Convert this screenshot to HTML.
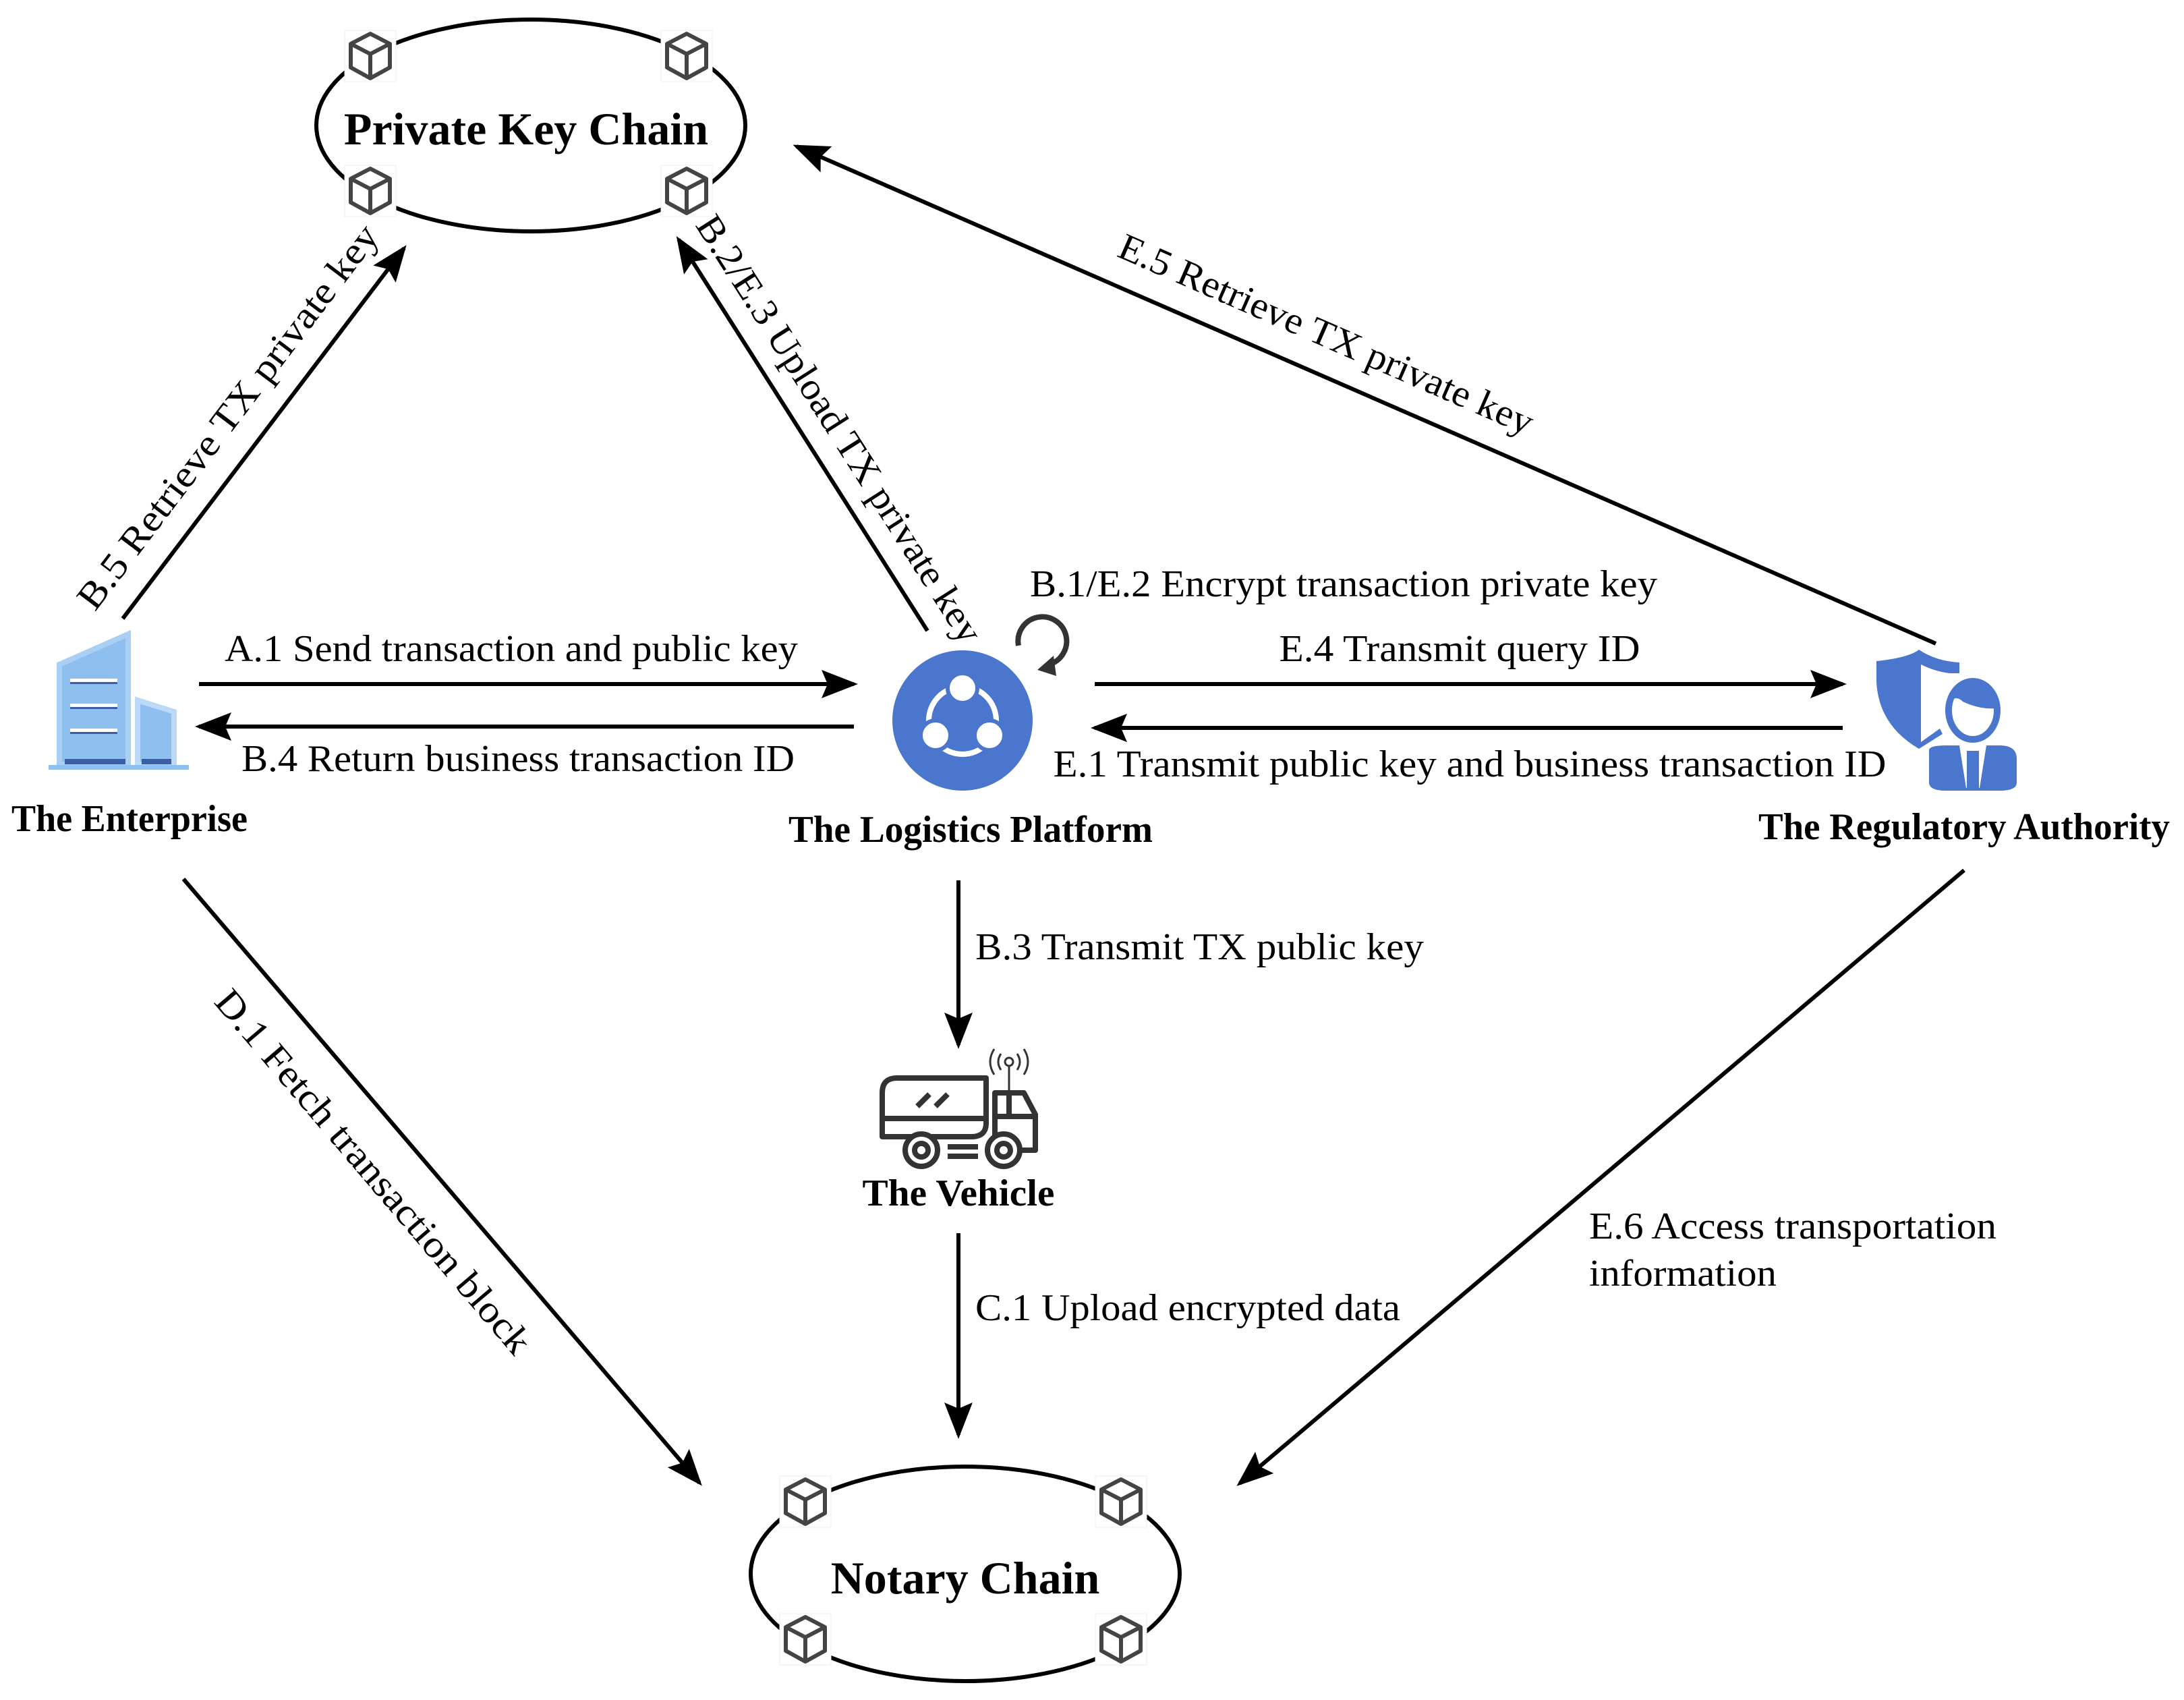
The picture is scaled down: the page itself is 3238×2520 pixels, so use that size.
<!DOCTYPE html>
<html><head><meta charset="utf-8"><style>
html,body{margin:0;padding:0;background:#fff;}
svg{display:block;}
text{font-family:"Liberation Serif","DejaVu Serif",serif;fill:#000;}
.l{font-size:56px;}
.b{font-size:56px;font-weight:bold;}
</style></head><body>
<svg width="3238" height="2520" viewBox="0 0 3238 2520" xmlns="http://www.w3.org/2000/svg" font-family="Liberation Serif, DejaVu Serif, serif">
<defs>
<marker id="ah" markerWidth="9" markerHeight="7" refX="8" refY="3.5" orient="auto" markerUnits="strokeWidth">
<path d="M0,0 L9,3.5 L0,7 L1.5,3.5 Z" fill="#000"/>
</marker>
<g id="cube">
<rect x="-38" y="-38" width="76" height="76" fill="#fff" stroke="#eee" stroke-width="1"/>
<path d="M0,-33 L29,-18 L29,17 L0,33 L-29,17 L-29,-18 Z M-29,-18 L0,-3 L29,-18 M0,-3 L0,33" fill="none" stroke="#444" stroke-width="6" stroke-linejoin="round"/>
</g>
</defs>

<ellipse cx="787" cy="186" rx="318" ry="157" fill="none" stroke="#000" stroke-width="6"/>
<use href="#cube" x="549" y="83"/><use href="#cube" x="1018" y="83"/>
<use href="#cube" x="549" y="283"/><use href="#cube" x="1018" y="283"/>
<text x="780" y="214" text-anchor="middle" font-size="68" font-weight="bold">Private Key Chain</text>

<ellipse cx="1431" cy="2333" rx="318" ry="159" fill="none" stroke="#000" stroke-width="6"/>
<use href="#cube" x="1194" y="2226"/><use href="#cube" x="1662" y="2226"/>
<use href="#cube" x="1194" y="2430"/><use href="#cube" x="1662" y="2430"/>
<text x="1431" y="2362" text-anchor="middle" font-size="68" font-weight="bold">Notary Chain</text>

<g>
<path d="M88,1133 L88,985 L190,940 L190,1133 Z" fill="#8fbfee" stroke="#a9cff5" stroke-width="8"/>
<rect x="96" y="1125" width="90" height="8" fill="#3a5fa8"/>
<rect x="104" y="1006" width="70" height="5" fill="#fff"/><rect x="104" y="1011" width="70" height="3" fill="#3a5fa8"/>
<rect x="104" y="1043" width="70" height="5" fill="#fff"/><rect x="104" y="1048" width="70" height="3" fill="#3a5fa8"/>
<rect x="104" y="1080" width="70" height="5" fill="#fff"/><rect x="104" y="1085" width="70" height="3" fill="#3a5fa8"/>
<path d="M204,1133 L204,1038 L258,1055 L258,1133 Z" fill="#8fbfee" stroke="#bcd9f7" stroke-width="8"/>
<rect x="210" y="1125" width="44" height="8" fill="#3a5fa8"/>
<rect x="72" y="1134" width="208" height="7" fill="#8fbfee"/>
</g>
<text x="192" y="1232" text-anchor="middle" class="b" textLength="350" lengthAdjust="spacingAndGlyphs">The Enterprise</text>

<ellipse cx="1427" cy="1068" rx="104" ry="104" fill="#4a77cd"/>
<circle cx="1427" cy="1068" r="50" fill="none" stroke="#fff" stroke-width="8"/>
<circle cx="1427" cy="1020" r="22" fill="#fff" stroke="#4a77cd" stroke-width="6"/>
<circle cx="1387" cy="1090" r="22" fill="#fff" stroke="#4a77cd" stroke-width="6"/>
<circle cx="1467" cy="1090" r="22" fill="#fff" stroke="#4a77cd" stroke-width="6"/>
<text x="1439" y="1248" text-anchor="middle" class="b" textLength="540" lengthAdjust="spacingAndGlyphs">The Logistics Platform</text>

<path d="M1510,957 A36,36 0 1 1 1555,985" fill="none" stroke="#333" stroke-width="8"/>
<path d="M1538,993 L1562,972 L1566,1002 Z" fill="#333"/>

<path d="M2782,980 Q2830,975 2845,963 Q2870,980 2905,982 L2905,998 L2890,998 Q2868,995 2848,985 L2848,1100 L2876,1080 L2880,1088 L2845,1110 Q2785,1075 2782,1010 Z" fill="#4a77cd"/>
<ellipse cx="2925" cy="1053" rx="36" ry="43" fill="none" stroke="#4a77cd" stroke-width="10"/>
<path d="M2892,1040 Q2900,1030 2910,1040 Q2935,1052 2960,1050 Q2960,1012 2925,1010 Q2890,1012 2892,1040 Z" fill="#4a77cd"/>
<path d="M2860,1112 Q2860,1105 2885,1105 L2905,1105 L2915,1168 L2935,1168 L2945,1105 L2965,1105 Q2990,1105 2990,1125 L2990,1160 Q2990,1172 2965,1172 L2885,1172 Q2860,1172 2860,1160 Z" fill="#4a77cd"/>
<rect x="2916" y="1113" width="18" height="55" fill="#4a77cd"/>
<text x="2912" y="1244" text-anchor="middle" class="b" textLength="610" lengthAdjust="spacingAndGlyphs">The Regulatory Authority</text>

<g fill="none" stroke="#333" stroke-width="8" stroke-linejoin="round">
<path d="M1308,1685 L1308,1620 Q1308,1598 1330,1598 L1462,1598 L1462,1665 Q1462,1685 1440,1685 Z"/>
<line x1="1308" y1="1658" x2="1462" y2="1658"/>
<path d="M1475,1705 L1475,1620 L1518,1620 L1535,1652 L1535,1705 Z"/>
<line x1="1496" y1="1620" x2="1496" y2="1655"/>
<line x1="1475" y1="1655" x2="1535" y2="1655"/>
<line x1="1360" y1="1640" x2="1378" y2="1622"/><line x1="1387" y1="1640" x2="1405" y2="1622"/>
<circle cx="1366" cy="1705" r="24" fill="#fff"/><circle cx="1366" cy="1705" r="10"/>
<circle cx="1488" cy="1705" r="24" fill="#fff"/><circle cx="1488" cy="1705" r="10"/>
<line x1="1405" y1="1700" x2="1450" y2="1700"/><line x1="1405" y1="1714" x2="1450" y2="1714"/>
</g>
<g fill="none" stroke="#333" stroke-width="3">
<line x1="1496" y1="1620" x2="1496" y2="1580"/><circle cx="1496" cy="1574" r="6"/>
<path d="M1484,1562 Q1476,1574 1484,1586 M1508,1562 Q1516,1574 1508,1586 M1474,1555 Q1462,1574 1474,1593 M1518,1555 Q1530,1574 1518,1593"/>
</g>
<text x="1421" y="1787" text-anchor="middle" class="b" textLength="285" lengthAdjust="spacingAndGlyphs">The Vehicle</text>

<g stroke="#000" stroke-width="6" fill="none" marker-end="url(#ah)">
<line x1="295" y1="1014" x2="1266" y2="1014"/>
<line x1="1266" y1="1077" x2="295" y2="1077"/>
<line x1="1623" y1="1014" x2="2732" y2="1014"/>
<line x1="2732" y1="1079" x2="1623" y2="1079"/>
<line x1="182" y1="917" x2="599" y2="368"/>
<line x1="1375" y1="935" x2="1006" y2="355"/>
<line x1="2870" y1="954" x2="1181" y2="217"/>
<line x1="1421" y1="1305" x2="1421" y2="1549"/>
<line x1="1421" y1="1828" x2="1421" y2="2127"/>
<line x1="272" y1="1303" x2="1037" y2="2198"/>
<line x1="2912" y1="1290" x2="1838" y2="2199"/>
</g>

<text x="758" y="980" text-anchor="middle" class="l" textLength="850" lengthAdjust="spacingAndGlyphs">A.1 Send transaction and public key</text>
<text x="768" y="1143" text-anchor="middle" class="l" textLength="820" lengthAdjust="spacingAndGlyphs">B.4 Return business transaction ID</text>
<text x="2164" y="980" text-anchor="middle" class="l" textLength="535" lengthAdjust="spacingAndGlyphs">E.4 Transmit query ID</text>
<text x="2179" y="1151" text-anchor="middle" class="l" textLength="1235" lengthAdjust="spacingAndGlyphs">E.1 Transmit public key and business transaction ID</text>
<text x="1527" y="884" class="l" textLength="930" lengthAdjust="spacingAndGlyphs">B.1/E.2 Encrypt transaction private key</text>
<text x="1446" y="1422" class="l" textLength="665" lengthAdjust="spacingAndGlyphs">B.3 Transmit TX public key</text>
<text x="1446" y="1957" class="l" textLength="630" lengthAdjust="spacingAndGlyphs">C.1 Upload encrypted data</text>
<text x="2356" y="1836" class="l" textLength="604" lengthAdjust="spacingAndGlyphs">E.6 Access transportation</text>
<text x="2356" y="1906" class="l" textLength="278" lengthAdjust="spacingAndGlyphs">information</text>
<text transform="translate(338,618) rotate(-52.8)" text-anchor="middle" y="18" class="l" textLength="700" lengthAdjust="spacingAndGlyphs">B.5 Retrieve TX private key</text>
<text transform="translate(1244,636) rotate(57.5)" text-anchor="middle" y="18" class="l" textLength="740" lengthAdjust="spacingAndGlyphs">B.2/E.3 Upload TX private key</text>
<text transform="translate(1966,496) rotate(23.6)" text-anchor="middle" y="18" class="l" textLength="665" lengthAdjust="spacingAndGlyphs">E.5 Retrieve TX private key</text>
<text transform="translate(553,1737) rotate(49.6)" text-anchor="middle" y="18" class="l" textLength="690" lengthAdjust="spacingAndGlyphs">D.1 Fetch transaction block</text>
</svg>
</body></html>
